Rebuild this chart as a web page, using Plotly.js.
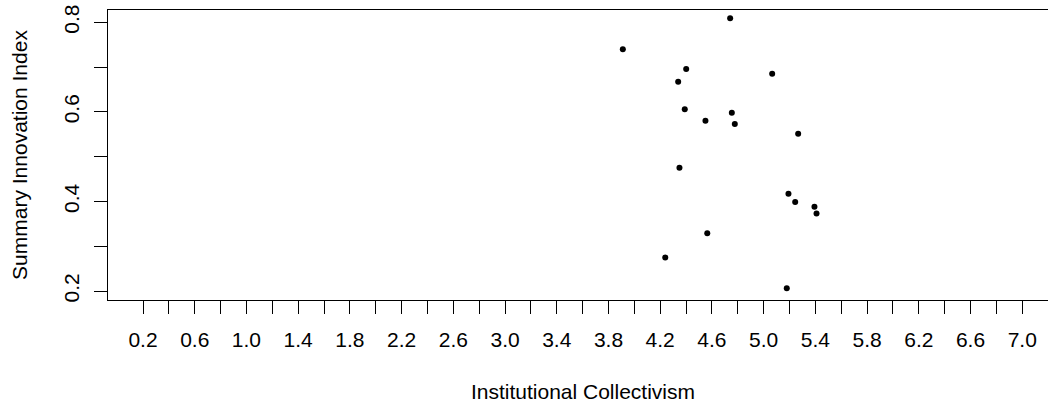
<!DOCTYPE html>
<html>
<head>
<meta charset="utf-8">
<script src="https://cdn.plot.ly/plotly-3.0.1.min.js"></script>
<style>
  html, body { margin: 0; padding: 0; overflow: hidden; background: #ffffff; }
  #chart { width: 1081px; height: 407px; }
</style>
</head>
<body>
<div id="chart"></div>
<script>
// Institutional Collectivism (x) vs Summary Innovation Index (y)
const collectivism = [4.741, 3.911, 4.401, 4.339, 5.066, 4.390, 4.754, 4.550, 4.777,
                      5.267, 4.349, 5.192, 5.244, 5.393, 5.409, 4.564, 4.239, 5.179];
const innovation   = [0.809, 0.740, 0.696, 0.667, 0.685, 0.606, 0.598, 0.580, 0.573,
                      0.551, 0.475, 0.417, 0.399, 0.388, 0.373, 0.329, 0.275, 0.206];

const xTickVals = [0.2, 0.4, 0.6, 0.8, 1.0, 1.2, 1.4, 1.6, 1.8, 2.0, 2.2, 2.4, 2.6, 2.8,
                   3.0, 3.2, 3.4, 3.6, 3.8, 4.0, 4.2, 4.4, 4.6, 4.8, 5.0, 5.2, 5.4, 5.6,
                   5.8, 6.0, 6.2, 6.4, 6.6, 6.8, 7.0, 7.2];
const xTickText = ["0.2", "", "0.6", "", "1.0", "", "1.4", "", "1.8", "", "2.2", "", "2.6", "",
                   "3.0", "", "3.4", "", "3.8", "", "4.2", "", "4.6", "", "5.0", "", "5.4", "",
                   "5.8", "", "6.2", "", "6.6", "", "7.0", ""];
const yTickVals = [0.2, 0.3, 0.4, 0.5, 0.6, 0.7, 0.8];
const yTickText = ["0.2", "", "0.4", "", "0.6", "", "0.8"];

const font = "Liberation Sans, Arial, sans-serif";
const fs = 21;

const trace = {
  x: collectivism,
  y: innovation,
  type: "scatter",
  mode: "markers",
  marker: { color: "#000000", size: 6 },
  hoverinfo: "x+y"
};

const layout = {
  width: 1081,
  height: 407,
  margin: { l: 108, r: 23, t: 10, b: 107, pad: 0 },
  paper_bgcolor: "#ffffff",
  plot_bgcolor: "#ffffff",
  showlegend: false,
  font: { family: font, size: fs, color: "#000000" },
  xaxis: {
    range: [-0.0707, 7.2766],
    tickmode: "array",
    tickvals: xTickVals,
    ticktext: xTickText,
    ticks: "outside",
    ticklen: 13,
    tickwidth: 1,
    tickcolor: "#000000",
    showgrid: false,
    zeroline: false,
    showline: true,
    mirror: true,
    linecolor: "#000000",
    linewidth: 1,
    ticklabelstandoff: 8,
    tickfont: { family: font, size: fs, color: "#000000" },
    title: { text: "Institutional Collectivism", font: { family: font, size: fs, color: "#000000" }, standoff: 34 },
    automargin: false
  },
  yaxis: {
    range: [0.1799, 0.8275],
    tickmode: "array",
    tickvals: yTickVals,
    ticktext: yTickText,
    tickangle: -90,
    ticks: "outside",
    ticklen: 13,
    tickwidth: 1,
    tickcolor: "#000000",
    showgrid: false,
    zeroline: false,
    showline: true,
    mirror: true,
    linecolor: "#000000",
    linewidth: 1,
    ticklabelstandoff: 7,
    tickfont: { family: font, size: fs, color: "#000000" },
    title: { text: "Summary Innovation Index", font: { family: font, size: fs, color: "#000000" }, standoff: 26 },
    automargin: false
  }
};

Plotly.newPlot("chart", [trace], layout, { displayModeBar: false, staticPlot: true });
</script>
</body>
</html>
